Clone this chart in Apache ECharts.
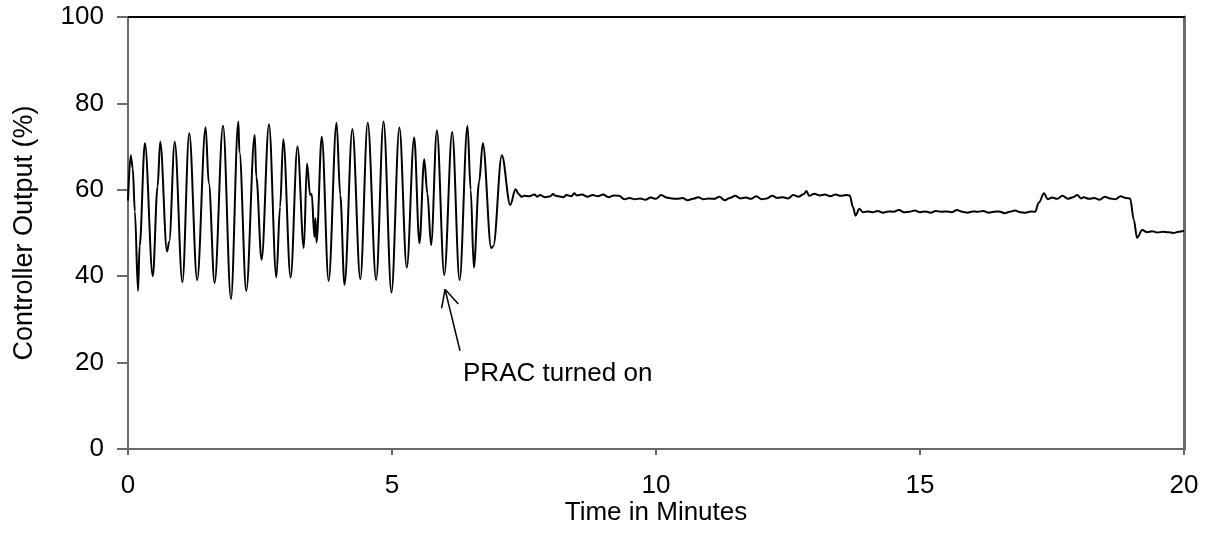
<!DOCTYPE html>
<html>
<head>
<meta charset="utf-8">
<script src="https://cdn.jsdelivr.net/npm/echarts@6/dist/echarts.min.js"></script>
<style>html,body{margin:0;padding:0;background:#fff}#c{width:1209px;height:553px}</style>
</head>
<body>
<div id="c"></div>
<script>
// Time in minutes
var timeMin = [
0,0.05,0.09,0.13,0.19,0.22,0.32,0.47,0.56,0.61,0.74,0.78,0.885,1.03,1.16,1.31,1.47,1.53,1.64,1.80,1.95,2.09,2.11,2.24,2.40,2.43,2.53,2.67,2.81,2.88,2.94,3.08,3.21,3.33,3.39,3.45,3.48,3.53,3.55,3.57,3.67,3.80,3.95,4.02,4.10,4.25,4.40,4.54,4.70,4.84,4.99,5.14,5.28,5.42,5.52,5.61,5.67,5.74,5.85,5.99,6.14,6.28,6.43,6.49,6.55,6.65,6.72,6.88,6.92,7.08,7.24,7.34,
7.40,7.45,7.50,7.60,7.70,7.75,7.80,7.90,8.00,8.05,8.10,8.20,8.25,8.30,8.40,8.45,8.50,8.60,8.70,8.80,8.90,9.00,9.10,9.20,9.30,9.40,9.50,9.60,9.70,9.80,9.90,10.00,10.10,10.20,10.30,10.40,10.50,10.60,10.70,10.80,10.90,11.00,11.10,11.20,11.30,11.40,11.50,11.60,11.70,11.80,11.90,12.00,12.10,12.20,12.30,12.40,12.50,12.60,12.70,12.80,12.85,12.90,13.00,13.10,13.20,13.30,13.40,13.50,13.60,13.67,13.73,13.78,13.85,13.92,
14.00,14.10,14.20,14.30,14.40,14.50,14.60,14.70,14.80,14.90,15.00,15.10,15.20,15.30,15.40,15.50,15.60,15.70,15.80,15.90,16.00,16.10,16.20,16.30,16.40,16.50,16.60,16.70,16.80,16.90,17.00,17.10,17.18,17.25,17.35,17.42,17.50,17.60,17.70,17.80,17.90,17.98,18.05,18.10,18.20,18.30,18.40,18.50,18.60,18.70,18.80,18.90,18.98,19.05,19.11,19.21,19.30,19.40,19.50,19.60,19.70,19.80,19.90,20.00
];
// Controller output (%)
var outputPct = [
57.5,68,65,55,36.6,47,70.8,40,60.7,71.1,45.7,48,71.1,38.6,73.1,39.1,74.5,61.5,38.4,74.8,34.7,75.8,68.8,36.6,72.7,63,43.8,75.2,39.7,56,71.7,39.7,70,46.5,66.1,58.8,59,49.1,53.4,47.8,72.3,38.9,75.5,58.8,38,74.1,39.3,75.5,39.1,75.8,36.2,74.4,42,72.1,47.6,67.1,59.2,47.2,73.7,40.3,73.4,39.1,74.8,60,42,61.9,70.8,46.5,47,68,56.5,60.1,
59.0,58.4,58.6,58.5,58.9,58.4,58.8,58.3,58.5,59.0,58.6,58.4,58.3,58.8,58.5,59.2,58.7,58.9,58.4,58.8,58.5,58.9,58.3,58.7,58.6,57.8,58.1,57.8,58.0,57.7,58.2,57.9,58.8,58.2,58.0,57.9,58.1,57.6,57.9,58.3,57.8,58.0,57.9,58.4,57.6,58.1,58.6,58.0,58.2,57.9,58.5,57.8,58.0,58.6,58.1,58.3,58.0,58.8,58.4,59.0,59.7,58.6,59.1,58.7,58.9,58.5,58.9,58.6,58.8,58.7,56.0,54.0,55.6,54.8,
55.0,54.8,55.1,54.7,55.0,54.9,55.3,54.8,54.9,55.2,54.8,55.0,54.7,55.1,54.9,55.0,54.8,55.3,54.9,54.7,55.0,54.9,55.1,54.7,54.9,55.0,54.6,54.9,55.2,54.8,54.7,55.0,54.9,57.0,59.2,57.8,58.2,57.9,58.6,57.9,58.3,58.8,58.0,58.3,57.9,58.1,57.7,58.4,58.0,57.8,58.5,58.1,58.0,53.0,48.9,50.7,50.2,50.4,50.1,50.3,50.2,50.0,50.3,50.5
];
var xTicks = { min: 0, max: 20, interval: 5 };
var yTicks = { min: 0, max: 100, interval: 20 };
// annotation: arrow shaft and head, in data units
var arrowSegments = [
  [[6.288, 22.75], [6.004, 36.97]],
  [[6.004, 36.97], [5.94, 32.57]],
  [[6.004, 36.97], [6.256, 33.56]]
];
var noteText = 'PRAC turned on';
var notePos = [6.345, 17.4];

var seriesData = timeMin.map(function (t, i) { return [t, outputPct[i]]; });
var font = 'Liberation Sans, Arial, sans-serif';
var chart = echarts.init(document.getElementById('c'), null, { renderer: 'canvas' });
chart.setOption({
  animation: false,
  backgroundColor: '#fff',
  grid: { left: 128, right: 25, top: 17, bottom: 104 },
  xAxis: [{
    type: 'value', min: xTicks.min, max: xTicks.max, interval: xTicks.interval,
    name: 'Time in Minutes', nameLocation: 'middle', nameGap: 51, nameMoveOverlap: false,
    nameTextStyle: { fontFamily: font, fontSize: 26, color: '#000' },
    axisLine: { show: true, lineStyle: { color: '#6b6b6b', width: 2 } },
    axisTick: { show: true, inside: false, length: 6, lineStyle: { color: '#6b6b6b', width: 2 } },
    axisLabel: { fontFamily: font, fontSize: 26, color: '#000', margin: 24 },
    splitLine: { show: false }
  }, {
    type: 'value', position: 'top', min: xTicks.min, max: xTicks.max,
    axisLine: { show: true, onZero: false, lineStyle: { color: '#000', width: 2 } },
    axisTick: { show: false }, axisLabel: { show: false }, splitLine: { show: false }
  }],
  yAxis: [{
    type: 'value', min: yTicks.min, max: yTicks.max, interval: yTicks.interval,
    name: 'Controller Output (%)', nameLocation: 'middle', nameGap: 90,
    nameTextStyle: { fontFamily: font, fontSize: 27, color: '#000' },
    axisLine: { show: true, lineStyle: { color: '#6b6b6b', width: 2 } },
    axisTick: { show: true, inside: false, length: 11, lineStyle: { color: '#6b6b6b', width: 2 } },
    axisLabel: { fontFamily: font, fontSize: 26, color: '#000', margin: 24 },
    splitLine: { show: false }
  }, {
    type: 'value', position: 'right', min: yTicks.min, max: yTicks.max,
    axisLine: { show: true, onZero: false, lineStyle: { color: '#6b6b6b', width: 3 } },
    axisTick: { show: false }, axisLabel: { show: false }, splitLine: { show: false }
  }],
  series: [{
    type: 'line', data: seriesData, showSymbol: false, symbol: 'none',
    smooth: 0.35, smoothMonotone: 'x',
    lineStyle: { color: '#000', width: 2 },
    markLine: {
      silent: true, symbol: ['none', 'none'], animation: false,
      lineStyle: { color: '#000', width: 1.5, type: 'solid' },
      label: { show: false },
      data: arrowSegments.map(function (s) { return [{ coord: s[0] }, { coord: s[1] }]; })
    },
    markPoint: {
      silent: true, animation: false,
      data: [{
        coord: notePos, symbol: 'circle', symbolSize: 0,
        label: { show: true, position: 'right', distance: 0, formatter: noteText,
          fontFamily: font, fontSize: 26, color: '#000' }
      }]
    }
  }]
});
</script>
</body>
</html>
